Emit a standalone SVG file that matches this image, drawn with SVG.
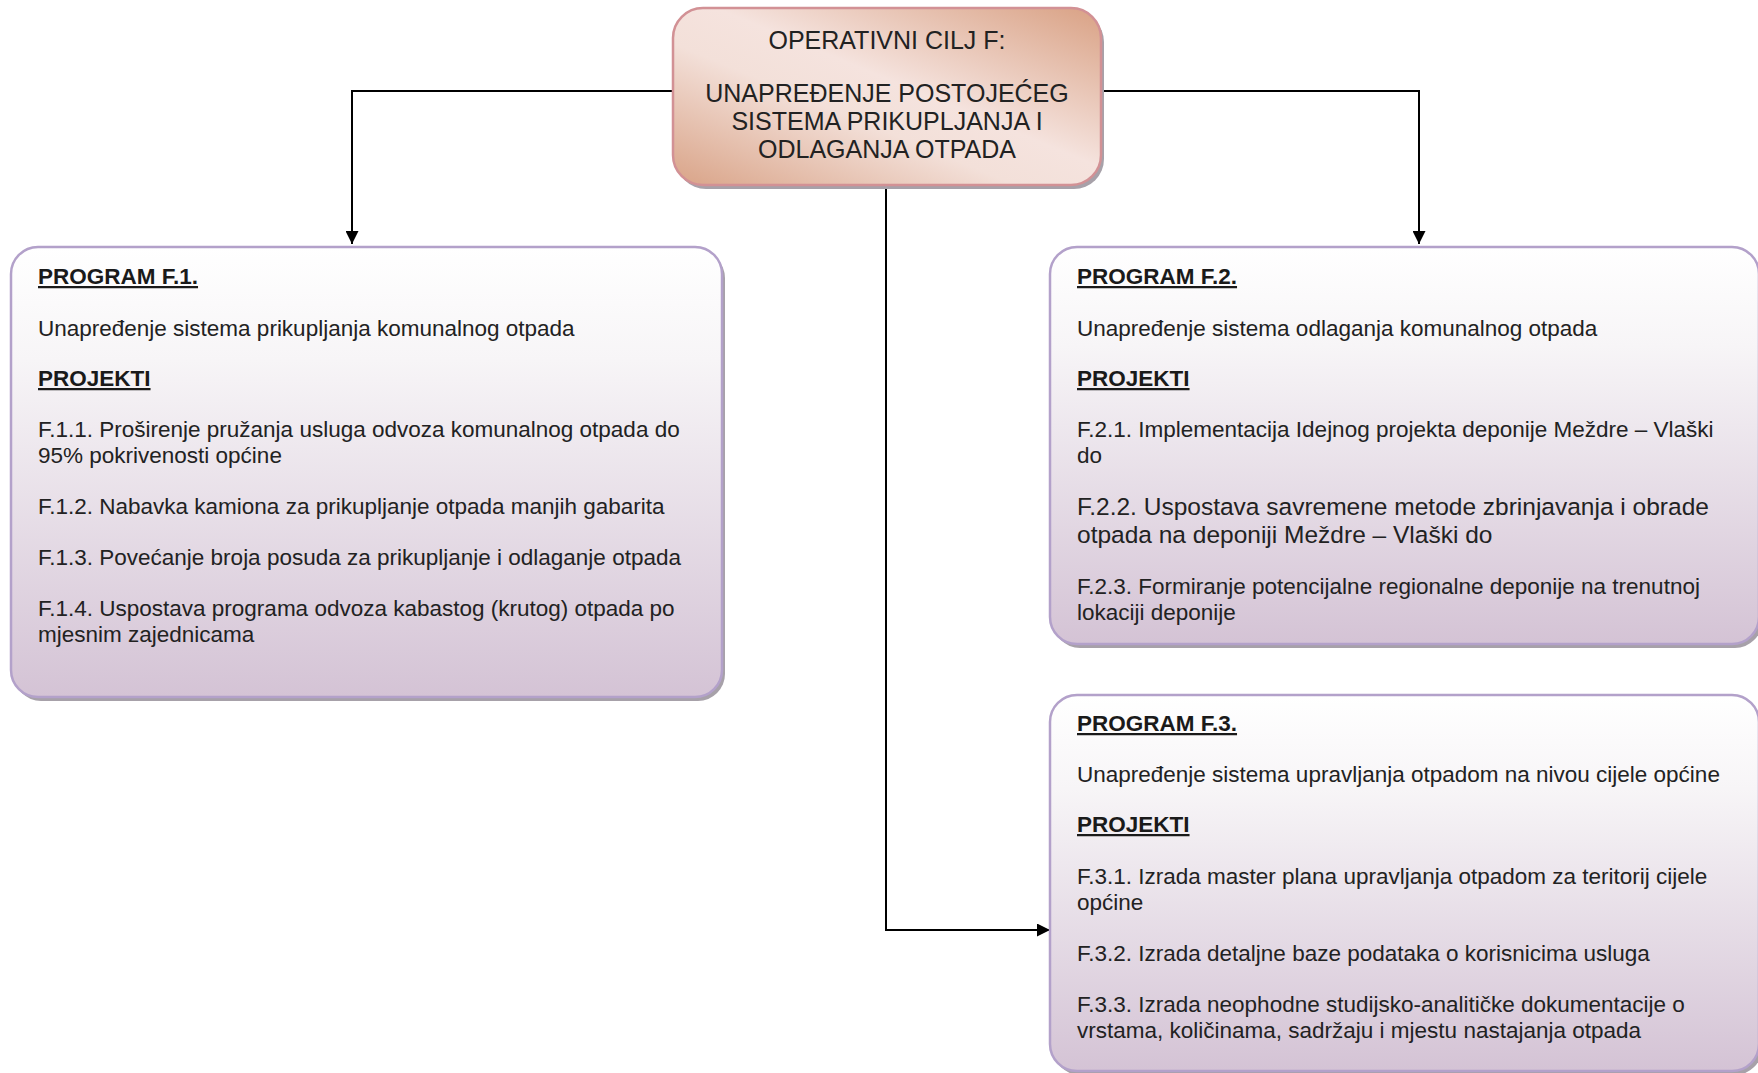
<svg xmlns="http://www.w3.org/2000/svg" width="1758" height="1073" viewBox="0 0 1758 1073">
  <defs>
    <linearGradient id="gTop" x1="1" y1="0" x2="0" y2="1">
      <stop offset="0" stop-color="#d9a184"/>
      <stop offset="0.45" stop-color="#f5e3de"/>
      <stop offset="0.6" stop-color="#f3e0d9"/>
      <stop offset="1" stop-color="#d9a387"/>
    </linearGradient>
    <linearGradient id="gBox" x1="0" y1="0" x2="0" y2="1">
      <stop offset="0" stop-color="#ffffff"/>
      <stop offset="0.25" stop-color="#f7f5f7"/>
      <stop offset="1" stop-color="#d4c3d5"/>
    </linearGradient>
    <marker id="arr" markerWidth="13" markerHeight="13" refX="13" refY="6.5" orient="auto" markerUnits="userSpaceOnUse">
      <path d="M0,0 L13,6.5 L0,13 z" fill="#000"/>
    </marker>
  </defs>
  <style>
    .shadow { fill: #a7a1a9; }
    .topnode { fill: url(#gTop); stroke: #d29195; stroke-width: 2.5; }
    .box { fill: url(#gBox); stroke: #b3a1ca; stroke-width: 2.5; }
    .title { font-family: "Liberation Sans", Arial, sans-serif; font-size: 25px; fill: #222; text-anchor: middle; }
    .t { font-family: "Liberation Sans", Arial, sans-serif; font-size: 22.5px; fill: #222; }
    .big { font-size: 24.5px; }
    .h { font-family: "Liberation Sans", Arial, sans-serif; font-size: 22.5px; font-weight: bold; fill: #1a1a1a; text-decoration: underline; }
    .conn { fill: none; stroke: #000; stroke-width: 2; }
  </style>

  <g id="connectors">
    <path class="conn" d="M673,91 H352 V244" marker-end="url(#arr)"/>
    <path class="conn" d="M1101,91 H1419 V244" marker-end="url(#arr)"/>
    <path class="conn" d="M886,185 V930 H1050" marker-end="url(#arr)"/>
  </g>

  <g id="node-cilj">
    <rect class="shadow" x="676" y="12" width="428" height="177" rx="30"/>
    <rect class="topnode" x="673" y="8" width="428" height="177" rx="30"/>
    <text class="title" x="887" y="49">OPERATIVNI CILJ F:</text>
    <text class="title" x="887" y="102">UNAPREĐENJE POSTOJEĆEG</text>
    <text class="title" x="887" y="130">SISTEMA PRIKUPLJANJA I</text>
    <text class="title" x="887" y="158">ODLAGANJA OTPADA</text>
  </g>

  <g id="node-f1">
    <rect class="shadow" x="14" y="251" width="711" height="450" rx="27"/>
    <rect class="box" x="11" y="247" width="711" height="450" rx="27"/>
    <text class="h" x="38" y="284">PROGRAM F.1.</text>
    <text class="t" x="38" y="336">Unapređenje sistema prikupljanja komunalnog otpada</text>
    <text class="h" x="38" y="386">PROJEKTI</text>
    <text class="t" x="38" y="437">F.1.1. Proširenje pružanja usluga odvoza komunalnog otpada do</text>
    <text class="t" x="38" y="463">95% pokrivenosti općine</text>
    <text class="t" x="38" y="514">F.1.2. Nabavka kamiona za prikupljanje otpada manjih gabarita</text>
    <text class="t" x="38" y="565">F.1.3. Povećanje broja posuda za prikupljanje i odlaganje otpada</text>
    <text class="t" x="38" y="616">F.1.4. Uspostava programa odvoza kabastog (krutog) otpada po</text>
    <text class="t" x="38" y="642">mjesnim zajednicama</text>
  </g>

  <g id="node-f2">
    <rect class="shadow" x="1053" y="251" width="709" height="397" rx="27"/>
    <rect class="box" x="1050" y="247" width="709" height="397" rx="27"/>
    <text class="h" x="1077" y="284">PROGRAM F.2.</text>
    <text class="t" x="1077" y="336">Unapređenje sistema odlaganja komunalnog otpada</text>
    <text class="h" x="1077" y="386">PROJEKTI</text>
    <text class="t" x="1077" y="437">F.2.1. Implementacija Idejnog projekta deponije Meždre – Vlaški</text>
    <text class="t" x="1077" y="463">do</text>
    <text class="t big" x="1077" y="515">F.2.2. Uspostava savremene metode zbrinjavanja i obrade</text>
    <text class="t big" x="1077" y="543">otpada na deponiji Meždre – Vlaški do</text>
    <text class="t" x="1077" y="594">F.2.3. Formiranje potencijalne regionalne deponije na trenutnoj</text>
    <text class="t" x="1077" y="620">lokaciji deponije</text>
  </g>

  <g id="node-f3">
    <rect class="shadow" x="1053" y="699" width="709" height="376" rx="27"/>
    <rect class="box" x="1050" y="695" width="709" height="376" rx="27"/>
    <text class="h" x="1077" y="731">PROGRAM F.3.</text>
    <text class="t" x="1077" y="782">Unapređenje sistema upravljanja otpadom na nivou cijele općine</text>
    <text class="h" x="1077" y="832">PROJEKTI</text>
    <text class="t" x="1077" y="884">F.3.1. Izrada master plana upravljanja otpadom za teritorij cijele</text>
    <text class="t" x="1077" y="910">općine</text>
    <text class="t" x="1077" y="961">F.3.2. Izrada detaljne baze podataka o korisnicima usluga</text>
    <text class="t" x="1077" y="1012">F.3.3. Izrada neophodne studijsko-analitičke dokumentacije o</text>
    <text class="t" x="1077" y="1038">vrstama, količinama, sadržaju i mjestu nastajanja otpada</text>
  </g>
</svg>
